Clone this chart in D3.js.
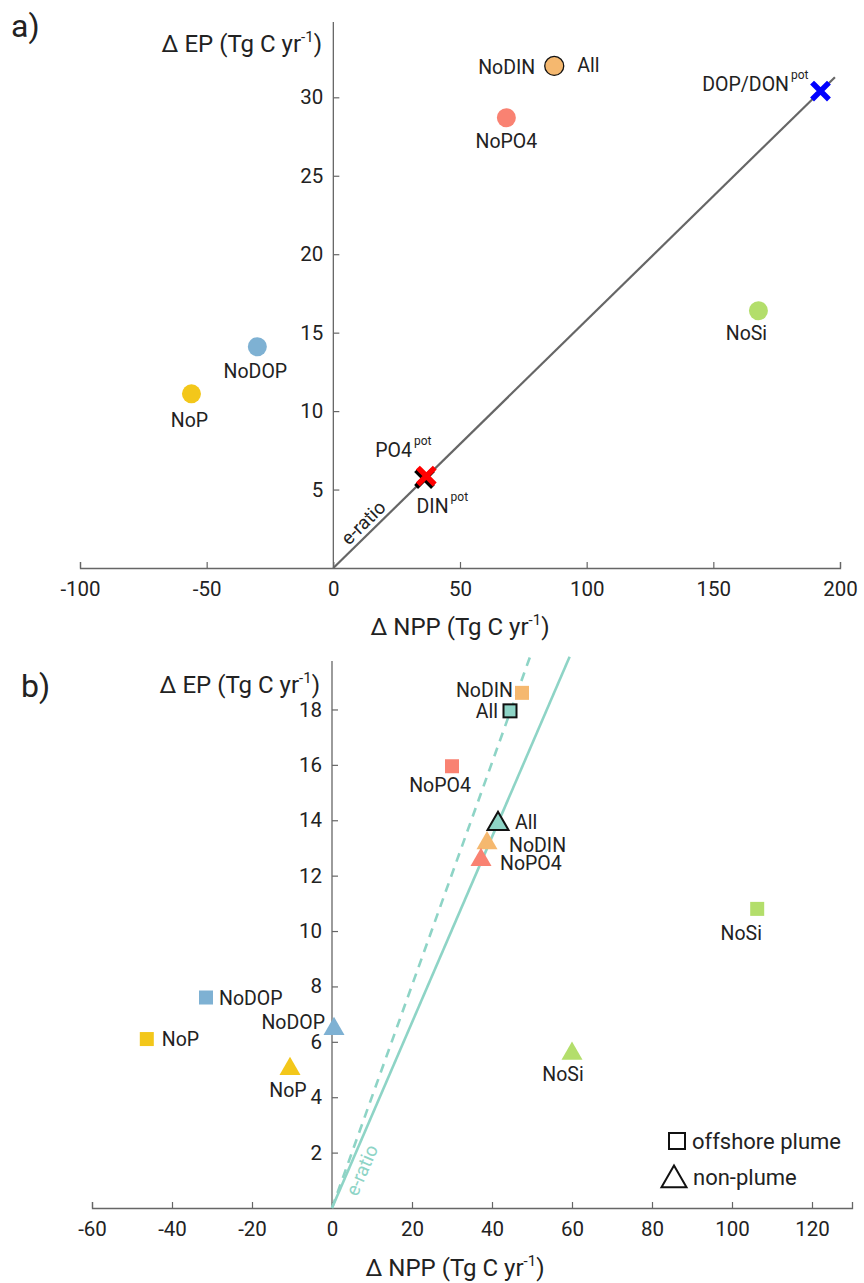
<!DOCTYPE html>
<html>
<head>
<meta charset="utf-8">
<script src="https://cdn.jsdelivr.net/npm/d3@7"></script>
<style>
  body { margin: 0; background: #fff; }
  svg text { font-family: Roboto, "Noto Sans", sans-serif; fill: #222; }
</style>
</head>
<body>
<svg id="chart" width="864" height="1283"></svg>
<script>
// ---- panel a data ----
const A_EXPERIMENTS = ['All', 'NoPO4', 'NoSi', 'NoDOP', 'NoP'];
const A_NPP = [87.2, 68.3, 167.8, -30, -56];
const A_EP = [32.0, 28.7, 16.4, 14.1, 11.1];
const A_POT_NAMES = ['DIN', 'PO4', 'DOP/DON'];
const A_POT_NPP = [36.0, 36.7, 192.3];
const A_POT_EP = [5.7, 5.86, 30.4];
const A_ERATIO = 0.158;
const A_X_TICKS = [-100, -50, 0, 50, 100, 150, 200];
const A_Y_TICKS = [5, 10, 15, 20, 25, 30];

// ---- panel b data ----
const B_EXPERIMENTS = ['All', 'NoDIN', 'NoPO4', 'NoSi', 'NoDOP', 'NoP'];
const B_PLUME_NPP = [44.5, 47.5, 30, 106.3, -31.5, -46.3];
const B_PLUME_EP = [17.95, 18.6, 15.95, 10.8, 7.6, 6.1];
const B_NONPLUME_NPP = [41.5, 38.75, 37.25, 60, 0.5, -10.5];
const B_NONPLUME_EP = [13.9, 13.2, 12.6, 5.6, 6.5, 5.05];
const B_ERATIO_PLUME = 0.402;
const B_ERATIO_NONPLUME = 0.335;
const B_X_TICKS = [-60, -40, -20, 0, 20, 40, 60, 80, 100, 120];
const B_Y_TICKS = [2, 4, 6, 8, 10, 12, 14, 16, 18];

const COLORS = {
  All: '#8ed4c6', NoDIN: '#f5b86f', NoPO4: '#f98272', NoSi: '#b3de6b',
  NoDOP: '#7eb1d3', NoP: '#f3c71a'
};
const AXIS_COL = '#666';
const LABEL_SIZE = 19.5;

const svg = d3.select('#chart');

const draw_axes = function(g, x, y, xTicks, yTicks) {
  const fmt = function(d) { return String(d); };
  const xa = g.append('g').attr('transform', `translate(0,${y.range()[0]})`)
    .call(d3.axisBottom(x).tickValues(xTicks).tickFormat(fmt)
      .tickSizeInner(-6).tickSizeOuter(-6).tickPadding(13));
  const ya = g.append('g').attr('transform', `translate(${x(0)},0)`)
    .call(d3.axisLeft(y).tickValues(yTicks).tickFormat(fmt)
      .tickSizeInner(-6).tickSizeOuter(0).tickPadding(10));
  [xa, ya].forEach(function(a) {
    a.select('.domain').attr('stroke', AXIS_COL).attr('stroke-width', 1.3);
    a.selectAll('.tick line').attr('stroke', AXIS_COL).attr('stroke-width', 1.2);
    a.selectAll('.tick text').attr('font-size', 20.5).attr('fill', '#222')
      .attr('font-family', 'Roboto, sans-serif');
  });
  ya.select('.domain').attr('d', `M0,${y.range()[0]}V${y.range()[1]}`);
};

const unit_label = function(g, x, y, anchor, name) {
  const t = g.append('text').attr('x', x).attr('y', y).attr('text-anchor', anchor)
    .attr('font-size', 24);
  t.append('tspan').text('\u0394 ' + name + ' (Tg C yr');
  t.append('tspan').text('-1').attr('font-size', 15).attr('dy', -10);
  t.append('tspan').text(')').attr('dy', 10);
};

const sup_label = function(g, x, y, anchor, main, sup) {
  const t = g.append('text').attr('x', x).attr('y', y).attr('text-anchor', anchor)
    .attr('font-size', LABEL_SIZE);
  t.append('tspan').text(main);
  t.append('tspan').text(sup).attr('font-size', 12).attr('dx', 2).attr('dy', -12);
  return t;
};

const label = function(g, x, y, anchor, txt) {
  g.append('text').attr('x', x).attr('y', y).attr('text-anchor', anchor)
    .attr('font-size', LABEL_SIZE).text(txt);
};

// text running along a line through the origin; off > 0 shifts it to the upper-left side
const line_text = function(g, x, y, ratio, xAt, off, col) {
  const px = x(xAt), py = y(xAt * ratio);
  const ang = Math.atan2(y(0) - py, px - x(0));
  const nx = -Math.sin(ang), ny = -Math.cos(ang);
  g.append('text').attr('font-size', 19).style('fill', col)
    .attr('transform', `translate(${px + nx * off},${py + ny * off}) rotate(${-ang * 180 / Math.PI})`)
    .attr('text-anchor', 'middle').text('e-ratio');
};

// ================= panel a =================
(function() {
  const g = svg.append('g');
  const x = d3.scaleLinear().domain([-100, 200]).range([80, 840]);
  const y = d3.scaleLinear().domain([0, 34.8]).range([568, 22]);
  draw_axes(g, x, y, A_X_TICKS, A_Y_TICKS);

  g.append('text').attr('x', 11).attr('y', 37).attr('font-size', 32).text('a)');
  unit_label(g, 322, 52, 'end', 'EP');
  unit_label(g, 460, 635, 'middle', 'NPP');

  const xEnd = 198;
  g.append('line')
    .attr('x1', x(0)).attr('y1', y(0))
    .attr('x2', x(xEnd)).attr('y2', y(xEnd * A_ERATIO))
    .attr('stroke', '#666').attr('stroke-width', 2.2);
  line_text(g, x, y, A_ERATIO, 15, 5, '#222');

  A_EXPERIMENTS.forEach(function(name, i) {
    g.append('circle')
      .attr('cx', x(A_NPP[i])).attr('cy', y(A_EP[i])).attr('r', 9.5)
      .attr('fill', name == 'All' ? COLORS.NoDIN : COLORS[name])
      .attr('stroke', name == 'All' ? '#111' : 'none').attr('stroke-width', 1.3);
  });
  const px = function(i) { return x(A_NPP[i]); };
  const py = function(i) { return y(A_EP[i]); };
  label(g, px(0) - 19, py(0) + 8, 'end', 'NoDIN');
  label(g, px(0) + 23, py(0) + 6, 'start', 'All');
  label(g, px(1), py(1) + 30, 'middle', 'NoPO4');
  label(g, px(2) - 12, py(2) + 29, 'middle', 'NoSi');
  label(g, px(3) - 2, py(3) + 31, 'middle', 'NoDOP');
  label(g, px(4) - 2, py(4) + 33, 'middle', 'NoP');

  const potCols = ['#000', '#ff0000', '#0000ff'];
  A_POT_NAMES.forEach(function(name, i) {
    const cx = x(A_POT_NPP[i]), cy = y(A_POT_EP[i]), s = 6.5;
    g.append('path')
      .attr('d', `M${cx - s},${cy - s}L${cx + s},${cy + s}M${cx - s},${cy + s}L${cx + s},${cy - s}`)
      .attr('stroke', potCols[i]).attr('stroke-width', 5.5).attr('stroke-linecap', 'square')
      .attr('fill', 'none');
  });
  sup_label(g, x(A_POT_NPP[0]) - 8, y(A_POT_EP[0]) + 34, 'start', 'DIN', 'pot');
  sup_label(g, x(A_POT_NPP[1]) - 51, y(A_POT_EP[1]) - 19, 'start', 'PO4', 'pot');
  sup_label(g, x(A_POT_NPP[2]) - 12, y(A_POT_EP[2]) + 0, 'end', 'DOP/DON', 'pot');
})();

// ================= panel b =================
(function() {
  const g = svg.append('g');
  const x = d3.scaleLinear().domain([-60, 130]).range([92, 852]);
  const y = d3.scaleLinear().domain([0, 19.75]).range([1208, 661]);
  draw_axes(g, x, y, B_X_TICKS, B_Y_TICKS);

  g.append('text').attr('x', 21).attr('y', 697).attr('font-size', 32).text('b)');
  unit_label(g, 320, 693, 'end', 'EP');
  unit_label(g, 455, 1276, 'middle', 'NPP');

  const yTop = 19.9;
  g.append('line')
    .attr('x1', x(0)).attr('y1', y(0))
    .attr('x2', x(yTop / B_ERATIO_PLUME)).attr('y2', y(yTop))
    .attr('stroke', COLORS.All).attr('stroke-width', 2.6).attr('stroke-dasharray', '9,7');
  g.append('line')
    .attr('x1', x(0)).attr('y1', y(0))
    .attr('x2', x(yTop / B_ERATIO_NONPLUME)).attr('y2', y(yTop))
    .attr('stroke', COLORS.All).attr('stroke-width', 2.6);
  line_text(g, x, y, B_ERATIO_NONPLUME, 4.6, -19, COLORS.All);

  B_EXPERIMENTS.forEach(function(name, i) {
    const s = name == 'All' ? 13 : 14;
    g.append('rect')
      .attr('x', x(B_PLUME_NPP[i]) - s / 2).attr('y', y(B_PLUME_EP[i]) - s / 2)
      .attr('width', s).attr('height', s)
      .attr('fill', COLORS[name])
      .attr('stroke', name == 'All' ? '#111' : 'none').attr('stroke-width', 2);
  });
  const tri = function(cx, cy, w) {
    const h = w * 0.87;
    return `M${cx},${cy - h * 0.62}L${cx + w / 2},${cy + h * 0.38}L${cx - w / 2},${cy + h * 0.38}Z`;
  };
  B_EXPERIMENTS.forEach(function(name, i) {
    g.append('path')
      .attr('d', tri(x(B_NONPLUME_NPP[i]), y(B_NONPLUME_EP[i]), 21))
      .attr('fill', COLORS[name])
      .attr('stroke', name == 'All' ? '#111' : 'none').attr('stroke-width', 2);
  });
  const sx = function(i) { return x(B_PLUME_NPP[i]); };
  const sy = function(i) { return y(B_PLUME_EP[i]); };
  const tx = function(i) { return x(B_NONPLUME_NPP[i]); };
  const ty = function(i) { return y(B_NONPLUME_EP[i]); };
  label(g, sx(0) - 12, sy(0) + 7, 'end', 'All');
  label(g, sx(1) - 9, sy(1) + 4, 'end', 'NoDIN');
  label(g, sx(2) - 12, sy(2) + 26, 'middle', 'NoPO4');
  label(g, sx(3) - 16, sy(3) + 31, 'middle', 'NoSi');
  label(g, sx(4) + 13, sy(4) + 7, 'start', 'NoDOP');
  label(g, sx(5) + 15, sy(5) + 7, 'start', 'NoP');
  label(g, tx(0) + 17, ty(0) + 6, 'start', 'All');
  label(g, tx(1) + 22, ty(1) + 10, 'start', 'NoDIN');
  label(g, tx(2) + 19, ty(2) + 11, 'start', 'NoPO4');
  label(g, tx(3) - 9, ty(3) + 28, 'middle', 'NoSi');
  label(g, tx(4) - 9, ty(4) + 1, 'end', 'NoDOP');
  label(g, tx(5) - 2, ty(5) + 29, 'middle', 'NoP');

  // legend
  g.append('rect').attr('x', 669).attr('y', 1133).attr('width', 16).attr('height', 16)
    .attr('fill', 'none').attr('stroke', '#111').attr('stroke-width', 2);
  g.append('text').attr('x', 692).attr('y', 1149).attr('font-size', 22).text('offshore plume');
  g.append('path').attr('d', tri(674, 1179, 25))
    .attr('fill', 'none').attr('stroke', '#111').attr('stroke-width', 2);
  g.append('text').attr('x', 693).attr('y', 1185).attr('font-size', 22).text('non-plume');
})();
</script>
</body>
</html>
